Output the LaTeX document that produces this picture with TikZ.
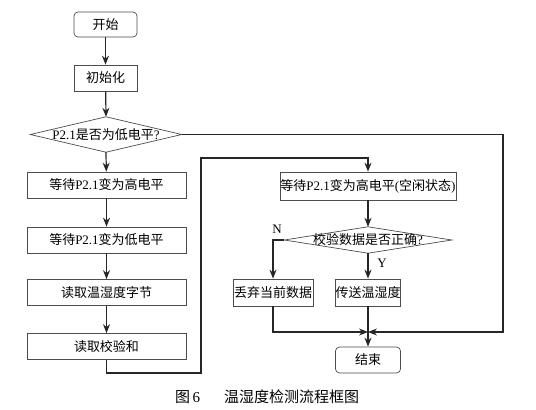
\documentclass[tikz,border=0pt]{standalone}
\usepackage{fontspec}
\usepackage{tikz}
\usetikzlibrary{arrows.meta}
\setmainfont{Liberation Serif}
\newfontfamily\cjk{Noto Sans CJK SC}

\begin{document}
\begin{tikzpicture}[x=1pt, y=-1pt,
  box/.style={draw=black!70, line width=0.7pt, fill=white, inner sep=1pt,
    minimum height=26pt, font=\fontsize{13}{15}\selectfont},
  term/.style={box, rounded corners=4pt},
  dec/.style={inner sep=0pt, font=\fontsize{13}{15}\selectfont},
  arr/.style={line width=1.2pt, black!85, -{Stealth[length=9pt, width=7pt]}},
  ln/.style={line width=1.2pt, black!85}]
\useasboundingbox (0,0) rectangle (536,410);

\node[term, minimum width=63pt, minimum height=25pt] (start) at (105.5,24.5) {\cjk 开始};
\node[box, minimum width=63pt] (init) at (105.5,78) {\cjk 初始化};
\node[dec, minimum width=151pt, minimum height=35pt] (q1) at (106,134.5) {P2.1{\cjk 是否为低电平}?};
\draw[black!70, line width=0.7pt] (q1.west) -- (q1.north) -- (q1.east) -- (q1.south) -- cycle;
\node[box, minimum width=159pt] (w1) at (106.5,185) {{\cjk 等待}P2.1{\cjk 变为高电平}};
\node[box, minimum width=159pt] (w2) at (106.5,240) {{\cjk 等待}P2.1{\cjk 变为低电平}};
\node[box, minimum width=159pt] (rd) at (106.5,292.5) {\cjk 读取温湿度字节};
\node[box, minimum width=159pt] (ck) at (106.5,346.5) {\cjk 读取校验和};

\node[box, minimum width=176pt, minimum height=28pt, inner xsep=0pt] (idle) at (368,186) {{\cjk 等待}P2.1{\cjk 变为高电平}({\cjk 空闲状态})};
\node[dec, minimum width=167pt, minimum height=26pt] (q2) at (368,240) {{\cjk 校验数据是否正确}?};
\draw[black!70, line width=0.7pt] (q2.west) -- (q2.north) -- (q2.east) -- (q2.south) -- cycle;
\node[box, minimum width=80pt, minimum height=27pt, inner xsep=0pt] (drop) at (273,292.5) {\cjk 丢弃当前数据};
\node[box, minimum width=63pt, minimum height=27pt, inner xsep=0pt] (send) at (368,292.5) {\cjk 传送温湿度};
\node[term, minimum width=65pt] (stop) at (368,360) {\cjk 结束};
\coordinate (mg) at (368,332);

\draw[arr] (start) -- (init);
\draw[arr] (init) -- (q1.north);
\draw[arr] (q1.south) -- (w1);
\draw[arr] (w1) -- (w2);
\draw[arr] (w2) -- (rd);
\draw[arr] (rd) -- (ck);
\draw[arr] (ck.south) -- (106.5,373) -| (201,158) -| (idle.north);
\draw[arr] (idle) -- (q2.north);
\draw[arr] (q2.west) -| (drop.north);
\draw[arr] (q2.south) -- (send);
\draw[arr] (drop.south) |- (mg);
\draw[arr] (q1.east) -- (503,134.5) |- (mg);
\draw[arr] (send) -- (stop);

\node[font=\fontsize{13}{15}\selectfont] (n) at (277,229) {N};
\node[font=\fontsize{13}{15}\selectfont] (y) at (382,263) {Y};
\node[font=\fontsize{15}{17}\selectfont] (cap) at (267,397) {{\cjk 图}\,6\hspace{1.6em}{\cjk 温湿度检测流程框图}};
\end{tikzpicture}
\end{document}
